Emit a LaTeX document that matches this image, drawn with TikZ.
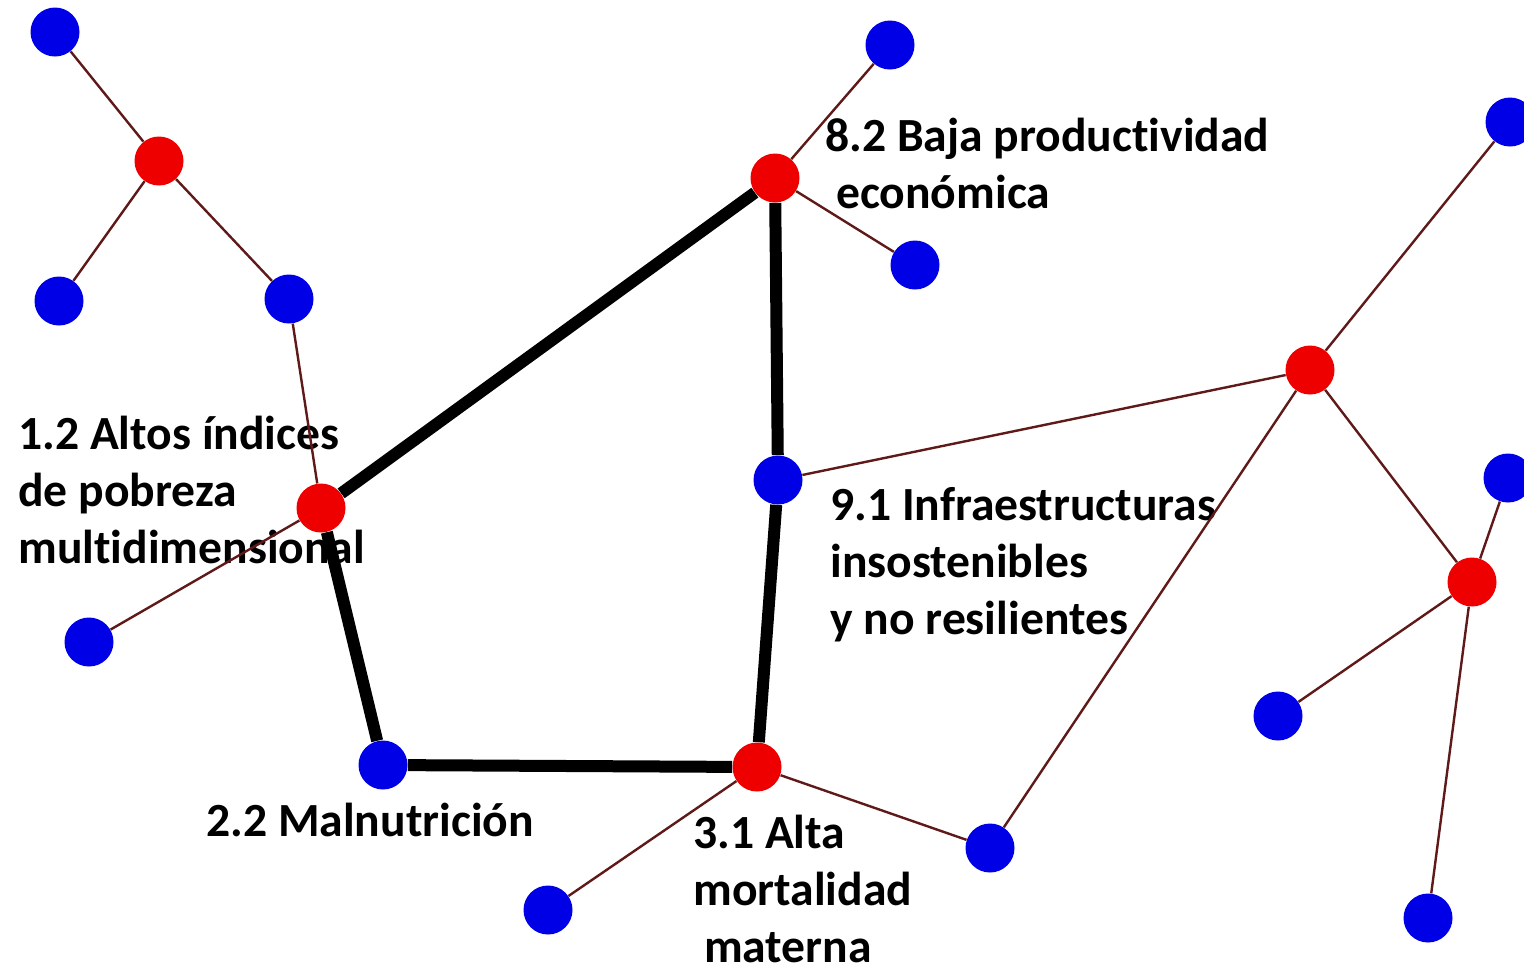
\documentclass[tikz,border=0pt]{standalone}
\usepackage{fontspec}
\setmainfont{Carlito}[Ligatures=NoCommon]
\pgfdeclarelayer{bg}
\pgfsetlayers{bg,main}
\definecolor{nblue}{RGB}{0,0,230}
\definecolor{nred}{RGB}{238,0,0}
\definecolor{thin}{RGB}{95,25,25}
\tikzset{
  bnode/.style={circle,fill=nblue,inner sep=0pt,minimum size=24.5pt},
  rnode/.style={circle,fill=nred,inner sep=0pt,minimum size=24.5pt},
  thinedge/.style={draw=thin,line width=1.2pt},
  thickedge/.style={draw=black,line width=6pt},
  lbl/.style={anchor=base west,inner sep=0pt,align=left,
    font=\fontsize{23.8pt}{28.5pt}\selectfont\bfseries}
}
\begin{document}
\begin{tikzpicture}[x=0.5pt,y=-0.5pt]
\useasboundingbox (0,0) rectangle (1524,966);
% nodes
\node[bnode] (b1) at (55,32) {};
\node[bnode] (b2) at (59,301) {};
\node[bnode] (b3) at (289,299) {};
\node[bnode] (b4) at (89,642) {};
\node[bnode] (b5) at (383,765) {};
\node[bnode] (b6) at (548,910) {};
\node[bnode] (b7) at (990,848) {};
\node[bnode] (b8) at (890,45) {};
\node[bnode] (b9) at (915,265) {};
\node[bnode] (b10) at (778,480) {};
\node[bnode] (b11) at (1510,122) {};
\node[bnode] (b12) at (1508,478) {};
\node[bnode] (b13) at (1278,716) {};
\node[bnode] (b14) at (1428,918) {};
\node[rnode] (r1) at (159,161) {};
\node[rnode] (r2) at (321,508) {};
\node[rnode] (r3) at (775,178) {};
\node[rnode] (r4) at (757,767) {};
\node[rnode] (r5) at (1310,370) {};
\node[rnode] (r6) at (1472,582) {};
% labels (anchor = baseline of last line)
\begin{pgfonlayer}{bg}
\node[lbl] (t82) at (825,208) {8.2 Baja productividad\\\ econ\'omica};
\node[lbl] (t12) at (18,563) {1.2 Altos \'indices\\de pobreza\\multidimensional};
\node[lbl] (t91) at (830,634) {9.1 Infraestructuras\\insostenibles\\y no resilientes};
\node[lbl] (t22) at (206,836) {2.2 Malnutrici\'on};
\node[lbl] (t31) at (693,962) {3.1 Alta\\mortalidad\\\ materna};
\end{pgfonlayer}
% thin edges
\draw[thinedge] (b1) -- (r1);
\draw[thinedge] (r1) -- (b2);
\draw[thinedge] (r1) -- (b3);
\draw[thinedge] (b3) -- (r2);
\draw[thinedge] (r2) -- (b4);
\draw[thinedge] (r3) -- (b8);
\draw[thinedge] (r3) -- (b9);
\draw[thinedge] (r4) -- (b6);
\draw[thinedge] (r4) -- (b7);
\draw[thinedge] (b7) -- (r5);
\draw[thinedge] (r5) -- (b10);
\draw[thinedge] (r5) -- (b11);
\draw[thinedge] (r5) -- (r6);
\draw[thinedge] (r6) -- (b12);
\draw[thinedge] (r6) -- (b13);
\draw[thinedge] (r6) -- (b14);
% thick edges
\draw[thickedge] (r2) -- (r3);
\draw[thickedge] (r3) -- (b10);
\draw[thickedge] (b10) -- (r4);
\draw[thickedge] (r4) -- (b5);
\draw[thickedge] (b5) -- (r2);
\end{tikzpicture}
\end{document}
